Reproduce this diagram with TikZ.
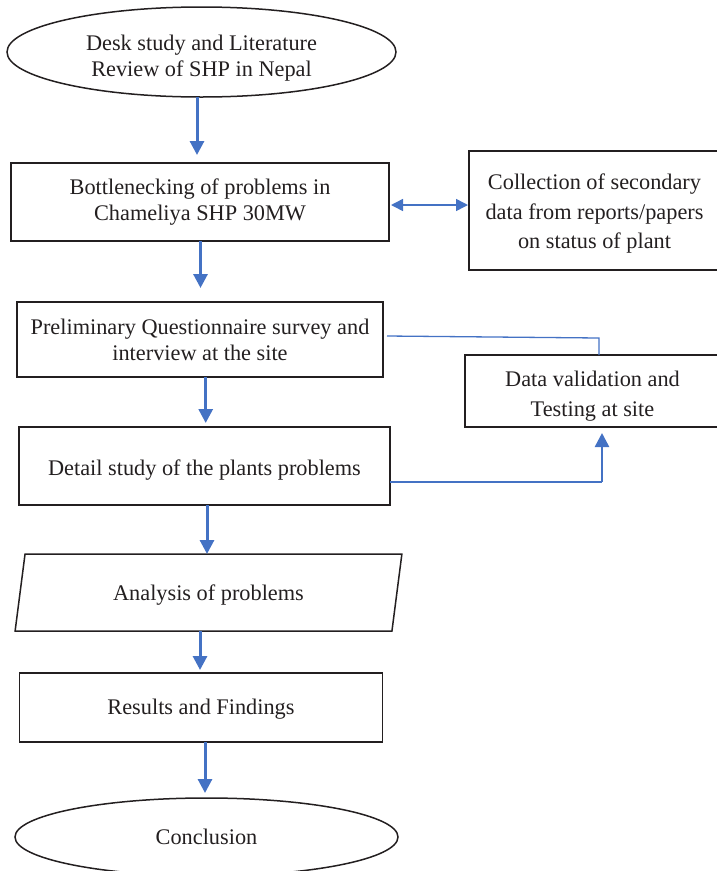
\documentclass[tikz,border=0pt]{standalone}
\usepackage{fontspec}
\setmainfont{Liberation Serif}
\usetikzlibrary{shapes.geometric,arrows.meta}
\definecolor{flowblue}{RGB}{68,114,196}
\definecolor{inkgray}{RGB}{35,31,32}
\begin{document}
\begin{tikzpicture}[x=1pt,y=-1pt,
  every node/.style={font=\fontsize{22.3}{26}\selectfont, text=inkgray, align=center, inner sep=2pt, outer sep=0pt},
  stepbox/.style={draw=inkgray, line width=1.5pt, rectangle},
  endcap/.style={draw=inkgray, line width=1.5pt, ellipse},
  iobox/.style={draw=inkgray, line width=1.5pt, trapezium, trapezium left angle=75, trapezium right angle=105, trapezium stretches=true},
  flow/.style={draw=flowblue, line width=3pt, -{Triangle[width=14pt,length=14pt]}},
  feed/.style={draw=flowblue, line width=1.3pt},
  both/.style={draw=flowblue, line width=1.5pt, {Triangle[width=12pt,length=12pt]}-{Triangle[width=12pt,length=12pt]}}]
\useasboundingbox (0,0) rectangle (716,871);
% main column
\node [endcap, minimum width=389, minimum height=90, text height=48pt, text depth=0pt] (desk) at (201.5,52) {Desk study and Literature\\ Review of SHP in Nepal};
\node [stepbox, minimum width=378, minimum height=78] (bottle) at (200,202) {Bottlenecking of problems in\\ Chameliya SHP 30MW};
\node [stepbox, minimum width=366, minimum height=75] (prelim) at (200,339.5) {Preliminary Questionnaire survey and\\ interview at the site};
\node [stepbox, minimum width=371, minimum height=78, text height=19pt, text depth=0pt] (detail) at (204.5,466) {Detail study of the plants problems};
\node [iobox, minimum width=387, minimum height=77, text depth=0pt] (analysis) at (208.5,592.5) {Analysis of problems};
\node [stepbox, minimum width=363, minimum height=69, text depth=1pt] (results) at (201,707.5) {Results and Findings};
\node [endcap, minimum width=383, minimum height=78] (concl) at (206.5,837) {Conclusion};
% side boxes
\node [stepbox, minimum width=251, minimum height=119, text height=76pt, text depth=0pt] (collect) at (594.5,210.5) {Collection of secondary\\[3.5pt] data from reports/papers\\[3.5pt] on status of plant};
\node [stepbox, minimum width=255, minimum height=72, text height=51pt, text depth=0pt] (valid) at (592.5,391) {Data validation and\\[4pt] Testing at site};
% down arrows
\draw [flow, shorten >=8pt] ([xshift=-4.5pt]desk.south) -- ([xshift=-4.5pt]desk.south |- bottle.north);
\draw [flow, shorten >=14pt] ([xshift=0.5pt]bottle.south) -- ([xshift=0.5pt]bottle.south |- prelim.north);
\draw [flow, shorten >=4pt] ([xshift=5.7pt]prelim.south) -- ([xshift=5.7pt]prelim.south |- detail.north);
\draw [flow] ([xshift=2.5pt]detail.south) -- ([xshift=2.5pt]detail.south |- analysis.north);
\draw [flow, shorten >=3pt] ([xshift=-8.5pt]analysis.south) -- ([xshift=-8.5pt]analysis.south |- results.north);
\draw [flow, shorten >=5pt] ([xshift=4pt]results.south) -- ([xshift=4pt]results.south |- concl.north);
% side links
\draw [both, shorten <=2pt, shorten >=1pt] ([yshift=-3pt]bottle.east) -- ([yshift=-3pt]bottle.east -| collect.west);
\coordinate (c1) at (599,338);
\coordinate (c2) at (602,482);
\draw [feed] ([xshift=4pt,yshift=3.5pt]prelim.east) -- (c1) -- (c1 |- valid.north);
\draw [feed] ([yshift=-16pt]detail.east) -- (c2);
\draw [flow, line width=2.5pt, shorten >=6pt] (c2) -- (c2 |- valid.south);
\end{tikzpicture}
\end{document}
